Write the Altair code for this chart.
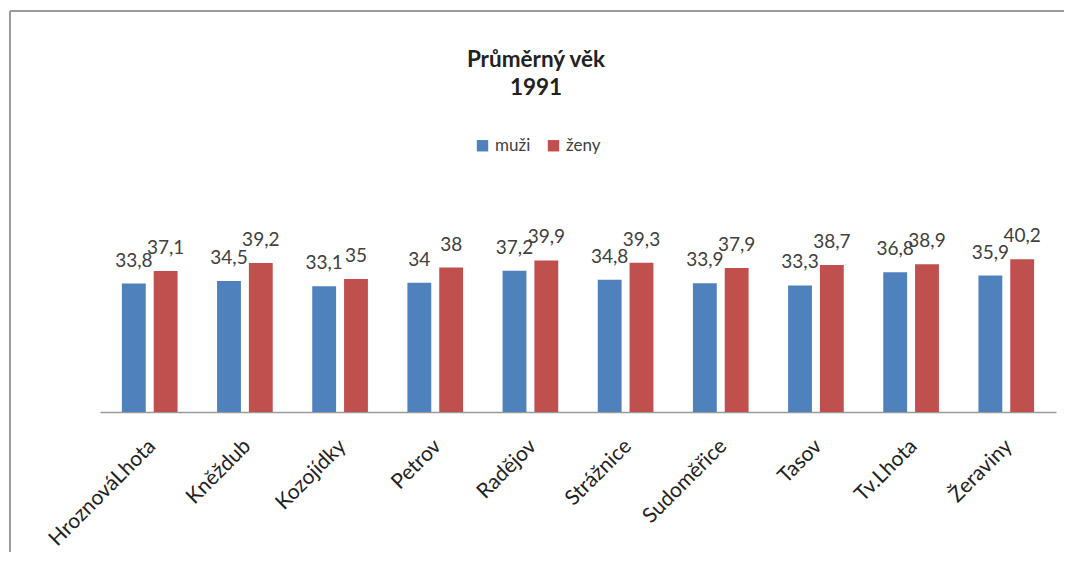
import altair as alt
import pandas as pd

categories = ["HroznováLhota", "Kněždub", "Kozojídky", "Petrov", "Radějov",
              "Strážnice", "Sudoměřice", "Tasov", "Tv.Lhota", "Žeraviny"]
muzi = [33.8, 34.5, 33.1, 34, 37.2, 34.8, 33.9, 33.3, 36.8, 35.9]
zeny = [37.1, 39.2, 35, 38, 39.9, 39.3, 37.9, 38.7, 38.9, 40.2]
series = ["muži", "ženy"]
colors = ["#4F81BD", "#C0504D"]

rows = []
for i, c in enumerate(categories):
    rows.append({"obec": c, "pohlavi": series[0], "vek": muzi[i]})
    rows.append({"obec": c, "pohlavi": series[1], "vek": zeny[i]})
df = pd.DataFrame(rows)

FONT = "Lato"

x_enc = alt.X("obec:N", sort=categories, title=None,
              scale=alt.Scale(paddingInner=0.415, paddingOuter=0.23),
              axis=alt.Axis(labelAngle=-45, labelAlign="right", labelBaseline="top",
                            ticks=False, labelPadding=23, labelOffset=-5, labelFontSize=21,
                            labelFont=FONT, labelColor="#222222",
                            domainColor="#9a9a9a", domainWidth=1.5))
y_enc = alt.Y("vek:Q", title=None, scale=alt.Scale(domain=[0, 45]), axis=None)
off = alt.XOffset("pohlavi:N", sort=series,
                  scale=alt.Scale(paddingInner=0.25, paddingOuter=0))

base = alt.Chart(df)

bars = base.mark_bar().encode(
    x=x_enc, y=y_enc, xOffset=off,
    color=alt.Color("pohlavi:N", sort=series,
                    scale=alt.Scale(domain=series, range=colors),
                    legend=alt.Legend(title=None, orient="none", direction="horizontal",
                                      legendX=374, legendY=-104, padding=0,
                                      symbolType="square", symbolSize=130,
                                      symbolStrokeWidth=0, labelFontSize=17,
                                      labelFont=FONT, labelColor="#404040",
                                      columnPadding=14, labelOffset=4)),
)

labels = base.transform_calculate(
    lab="replace(toString(datum.vek), '.', ',')"
).mark_text(baseline="bottom", dy=-13, fontSize=19, font=FONT, color="#404040").encode(
    x=x_enc, y=y_enc, xOffset=off, text="lab:N",
)

frame_df = pd.DataFrame({"a": [0]})
border_top = alt.Chart(frame_df).mark_rule(stroke="#9a9a9a", strokeWidth=2).encode(
    x=alt.value(-90), x2=alt.value(1100), y=alt.value(-230))
border_left = alt.Chart(frame_df).mark_rule(stroke="#9a9a9a", strokeWidth=2).encode(
    x=alt.value(-90), y=alt.value(-230), y2=alt.value(360))

chart = alt.layer(border_top, border_left, bars, labels).properties(
    width=956, height=171,
    title=alt.TitleParams(["Průměrný věk", "1991"], anchor="middle", frame="group",
                          dx=-42, offset=-89, fontSize=22.5, font=FONT, fontWeight="bold",
                          color="#222222", lineHeight=28),
    autosize=alt.AutoSizeParams(type="none"),
    padding={"left": 92, "top": 233, "right": 8, "bottom": 140},
).configure_view(stroke=None)

chart.save("out.html", embed_options={"renderer": "svg", "actions": False})
